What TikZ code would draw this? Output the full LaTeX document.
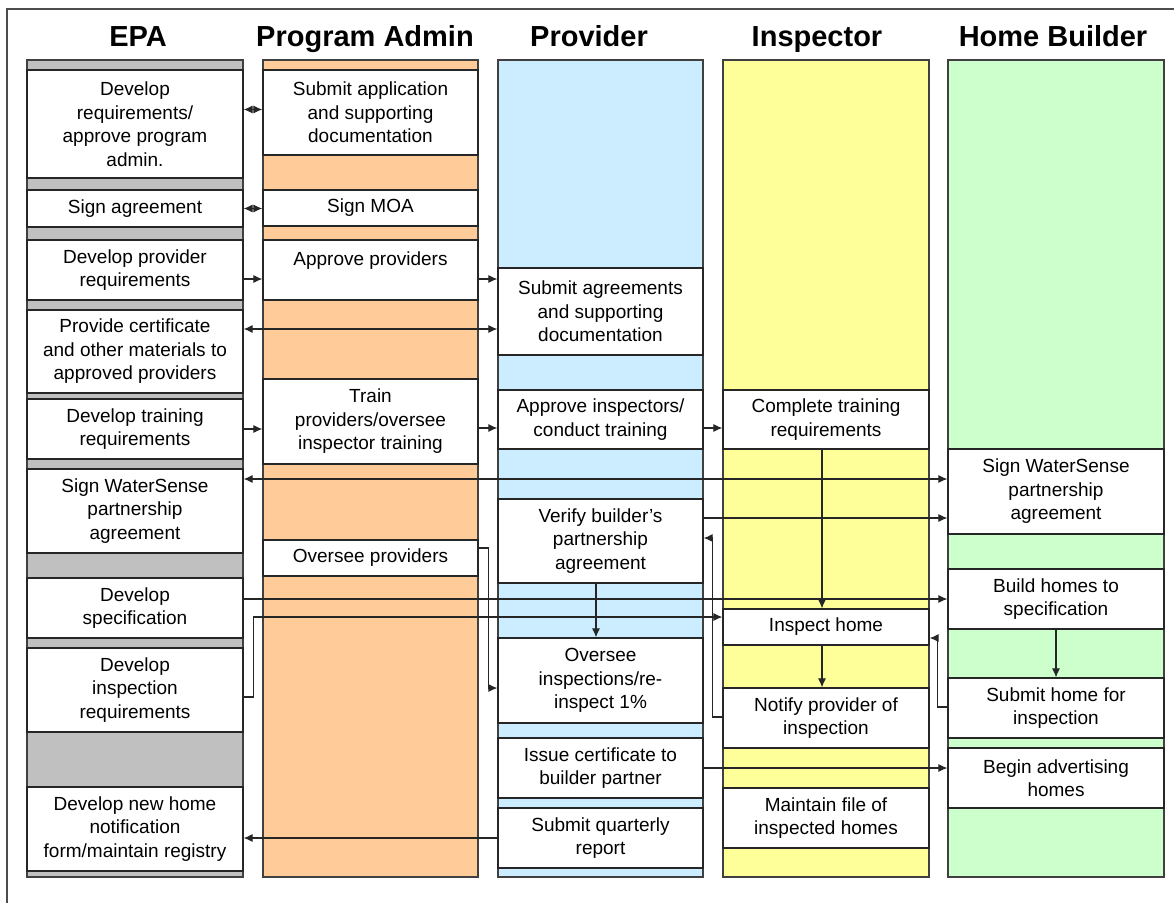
\documentclass[tikz,border=0pt]{standalone}
\usepackage{fontspec}
\setmainfont{Liberation Sans}
\usetikzlibrary{arrows.meta}
\definecolor{epagray}{HTML}{C0C0C0}
\definecolor{admorange}{HTML}{FFCC99}
\definecolor{provblue}{HTML}{CCECFF}
\definecolor{inspyellow}{HTML}{FFFF99}
\definecolor{buildgreen}{HTML}{CCFFCC}
\begin{document}
\begin{tikzpicture}[x=1pt, y=-1pt,
		lane/.style={draw=black!75, line width=1.2pt},
		task/.style={draw=black!85, line width=1.2pt, fill=white, align=center, inner sep=0pt, font=\fontsize{19}{23.5}\selectfont},
		epa/.style={task, minimum width=216pt},
		adm/.style={task, minimum width=215pt},
		prv/.style={task, minimum width=205pt},
		ins/.style={task, minimum width=206pt},
		bld/.style={task, minimum width=216pt},
		head/.style={anchor=base, font=\fontsize{29}{34}\selectfont\bfseries},
		flow/.style={draw=black!85, line width=1.1pt, -{Latex[length=9pt,width=8pt]}},
		twoway/.style={draw=black!85, line width=1.1pt, {Latex[length=9pt,width=8pt]}-{Latex[length=9pt,width=8pt]}}]
	\useasboundingbox (0,0) rectangle (1174,903);
	\draw[black!70, line width=1.2pt] (7,903) -- (7,9) -- (1174,9);

	\draw[lane, fill=epagray] (27,60) rectangle (243,877);
	\draw[lane, fill=admorange] (263,60) rectangle (478,877);
	\draw[lane, fill=provblue] (498,60) rectangle (703,877);
	\draw[lane, fill=inspyellow] (723,60) rectangle (929,877);
	\draw[lane, fill=buildgreen] (948,60) rectangle (1164,877);

	\node[head] (hepa) at (138,46) {EPA};
	\node[head] (hadm) at (365,46) {Program Admin};
	\node[head] (hprv) at (589,46) {Provider};
	\node[head] (hins) at (817,46) {Inspector};
	\node[head] (hbld) at (1053,46) {Home Builder};

	\node[epa, minimum height=108pt] (epa1) at (135,124) {Develop\\requirements/\\approve program\\admin.};
	\node[epa, minimum height=37pt] (epa2) at (135,208.5) {Sign agreement};
	\node[epa, minimum height=60pt] (epa3) at (135,270) {Develop provider\\requirements};
	\node[epa, minimum height=83pt] (epa4) at (135,351.5) {Provide certificate\\and other materials to\\approved providers};
	\node[epa, minimum height=60pt] (epa5) at (135,429) {Develop training\\requirements};
	\node[epa, minimum height=84pt] (epa6) at (135,511) {Sign WaterSense\\partnership\\agreement};
	\node[epa, minimum height=60pt] (epa7) at (135,608) {Develop\\specification};
	\node[epa, minimum height=84pt] (epa8) at (135,690) {Develop\\inspection\\requirements};
	\node[epa, minimum height=84pt] (epa9) at (135,829) {Develop new home\\notification\\form/maintain registry};

	\node[adm, minimum height=85pt] (adm1) at (370.5,112.5) {Submit application\\and supporting\\documentation};
	\node[adm, minimum height=36pt] (adm2) at (370.5,208) {Sign MOA};
	\node[adm, minimum height=60pt] (adm3) at (370.5,270) {Approve providers\\\mbox{}};
	\node[adm, minimum height=85pt] (adm4) at (370.5,421.5) {Train\\providers/oversee\\inspector training};
	\node[adm, minimum height=36pt] (adm5) at (370.5,558) {Oversee providers};

	\node[prv, minimum height=87pt] (prv1) at (600.5,311.5) {Submit agreements\\and supporting\\documentation};
	\node[prv, minimum height=59pt] (prv2) at (600.5,419.5) {Approve inspectors/\\conduct training};
	\node[prv, minimum height=84pt] (prv3) at (600.5,541) {Verify builder's\\partnership\\agreement};
	\node[prv, minimum height=85pt] (prv4) at (600.5,680.5) {Oversee\\inspections/re-\\inspect 1\%};
	\node[prv, minimum height=60pt] (prv5) at (600.5,768) {Issue certificate to\\builder partner};
	\node[prv, minimum height=60pt] (prv6) at (600.5,838) {Submit quarterly\\report};

	\node[ins, minimum height=59pt] (ins1) at (826,419.5) {Complete training\\requirements};
	\node[ins, minimum height=36pt] (ins2) at (826,627) {Inspect home};
	\node[ins, minimum height=60pt] (ins3) at (826,718) {Notify provider of\\inspection};
	\node[ins, minimum height=60pt] (ins4) at (826,818) {Maintain file of\\inspected homes};

	\node[bld, minimum height=85pt] (bld1) at (1056,491.5) {Sign WaterSense\\partnership\\agreement};
	\node[bld, minimum height=60pt] (bld2) at (1056,599) {Build homes to\\specification};
	\node[bld, minimum height=60pt] (bld3) at (1056,708) {Submit home for\\inspection};
	\node[bld, minimum height=60pt] (bld4) at (1056,778) {Begin advertising\\homes};

	\draw[twoway] ([yshift=3pt]epa1.east |- adm1.west) -- ([yshift=3pt]adm1.west);
	\draw[twoway] (epa2.east) -- (epa2.east -| adm2.west);
	\draw[flow] ([yshift=-9pt]epa3.east) -- ([yshift=-9pt]adm3.west);
	\draw[flow] ([yshift=-9pt]adm3.east) -- ([yshift=-9pt]adm3.east -| prv1.west);
	\draw[twoway] ([yshift=22.5pt]epa4.east) -- ([yshift=22.5pt]epa4.east -| prv1.west);
	\draw[flow] (epa5.east) -- (epa5.east -| adm4.west);
	\draw[flow] ([yshift=-6.5pt]adm4.east) -- ([yshift=-6.5pt]adm4.east -| prv2.west);
	\draw[flow] ([yshift=-8.5pt]prv2.east) -- ([yshift=-8.5pt]ins1.west);
	\draw[twoway] ([yshift=32pt]epa6.east) -- ([yshift=32pt]epa6.east -| bld1.west);
	\draw[flow] ([yshift=23pt]prv3.east) -- ([yshift=23pt]prv3.east -| bld1.west);
	\draw[flow] ([xshift=-4pt]ins1.south) -- ([xshift=-4pt]ins2.north);
	\draw[flow] (epa7.east |- bld2.west) -- (bld2.west);
	\draw[flow] ([yshift=-7pt]epa8.east) -- ++(10,0) |- ([yshift=10pt]ins2.west);
	\draw[flow] ([yshift=10pt]adm5.east) -- ++(10,0) |- ([yshift=-7.5pt]prv4.west);
	\draw[flow] ([xshift=-4.5pt]prv3.south) -- ([xshift=-4.5pt]prv4.north);
	\draw[flow] ([yshift=1pt]ins3.west) -- ++(-10,0) |- ([yshift=3pt]prv3.east);
	\draw[flow] ([xshift=-4pt]ins2.south) -- ([xshift=-4pt]ins3.north);
	\draw[flow] ([yshift=1pt]bld3.west) -- ++(-10,0) |- ([yshift=-11pt]ins2.east);
	\draw[flow] (bld2.south) -- (bld3.north);
	\draw[flow] (prv5.east) -- (prv5.east -| bld4.west);
	\draw[flow] (prv6.west) -- (prv6.west -| epa9.east);
\end{tikzpicture}
\end{document}
